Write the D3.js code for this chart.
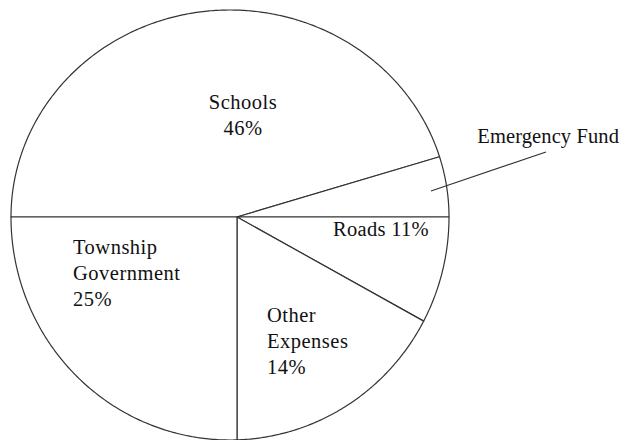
<!DOCTYPE html>
<html>
<head>
<meta charset="utf-8">
<script src="https://cdn.jsdelivr.net/npm/d3@7"></script>
<style>
  html, body { margin: 0; padding: 0; background: #fff; }
  svg { display: block; }
  text { font-family: "Liberation Serif", "DejaVu Serif", serif; fill: #111; }
</style>
</head>
<body>
<svg id="chart" width="621" height="440"></svg>
<script>
// ---- data ----
const categories = ["Schools", "Emergency Fund", "Roads", "Other Expenses", "Township Government"];
const percentLabels = ["46%", "", "11%", "14%", "25%"];
// share of the circle each slice occupies as drawn in the picture (percent)
const sliceShares = [45.4, 4.6, 8.1, 16.9, 25.0];

// ---- layout ----
const W = 621, H = 440;
const vertex = { x: 237, y: 217 };           // where the slice lines meet
const outline = { cx: 230, cy: 217, rx: 219, ryTop: 207, ryBottom: 223 };

const svg = d3.select("#chart");

const pie = d3.pie()
  .sort(null)
  .value(d => d)
  .startAngle(-Math.PI / 2)
  .endAngle(3 * Math.PI / 2);

const arcs = pie(sliceShares);

// point on the (slightly egg-shaped) outline hit by a ray from the vertex
function boundary(a) {
  const c = Math.sin(a), s = -Math.cos(a);
  const ry = s < 0 ? outline.ryTop : outline.ryBottom;
  const dx = vertex.x - outline.cx, dy = vertex.y - outline.cy;
  const A = c * c / (outline.rx * outline.rx) + s * s / (ry * ry);
  const B = 2 * (dx * c / (outline.rx * outline.rx) + dy * s / (ry * ry));
  const C = dx * dx / (outline.rx * outline.rx) + dy * dy / (ry * ry) - 1;
  const t = (-B + Math.sqrt(B * B - 4 * A * C)) / (2 * A);
  return [vertex.x + t * c, vertex.y + t * s];
}

const line = d3.line();

function slicePath(d) {
  const pts = [[vertex.x, vertex.y]];
  const n = Math.max(4, Math.ceil((d.endAngle - d.startAngle) / 0.01));
  for (let i = 0; i <= n; i++) {
    pts.push(boundary(d.startAngle + (d.endAngle - d.startAngle) * i / n));
  }
  return line(pts) + "Z";
}

svg.append("g")
  .selectAll("path")
  .data(arcs)
  .join("path")
  .attr("d", slicePath)
  .attr("fill", "#fff")
  .attr("stroke", "#333")
  .attr("stroke-width", 1.2)
  .attr("stroke-linejoin", "round");

// ---- labels ----
const fontSize = 20.5;
const labelLayout = [
  { x: 243, y: 109, anchor: "middle", ls: 0.5, lines: [categories[0], percentLabels[0]] },
  { x: 619, y: 143, anchor: "end", ls: 0.1, lines: [categories[1]] },
  { x: 333, y: 236, anchor: "start", ls: 0.3, lines: [categories[2] + " " + percentLabels[2]] },
  { x: 267, y: 322, anchor: "start", ls: 0.5, lines: ["Other", "Expenses", percentLabels[3]] },
  { x: 73, y: 254, anchor: "start", ls: 0.5, lines: ["Township", "Government", percentLabels[4]] }
];
const lineGap = 25.8;

const lab = svg.append("g");
labelLayout.forEach(L => {
  const t = lab.append("text")
    .attr("x", L.x)
    .attr("y", L.y)
    .attr("text-anchor", L.anchor)
    .attr("font-size", fontSize)
    .attr("letter-spacing", L.ls);
  L.lines.forEach((s, i) => {
    t.append("tspan").attr("x", L.x).attr("y", L.y + i * lineGap).text(s);
  });
});

// leader line for Emergency Fund
svg.append("line")
  .attr("x1", 546).attr("y1", 152)
  .attr("x2", 431).attr("y2", 191)
  .attr("stroke", "#333")
  .attr("stroke-width", 1.2);
</script>
</body>
</html>
